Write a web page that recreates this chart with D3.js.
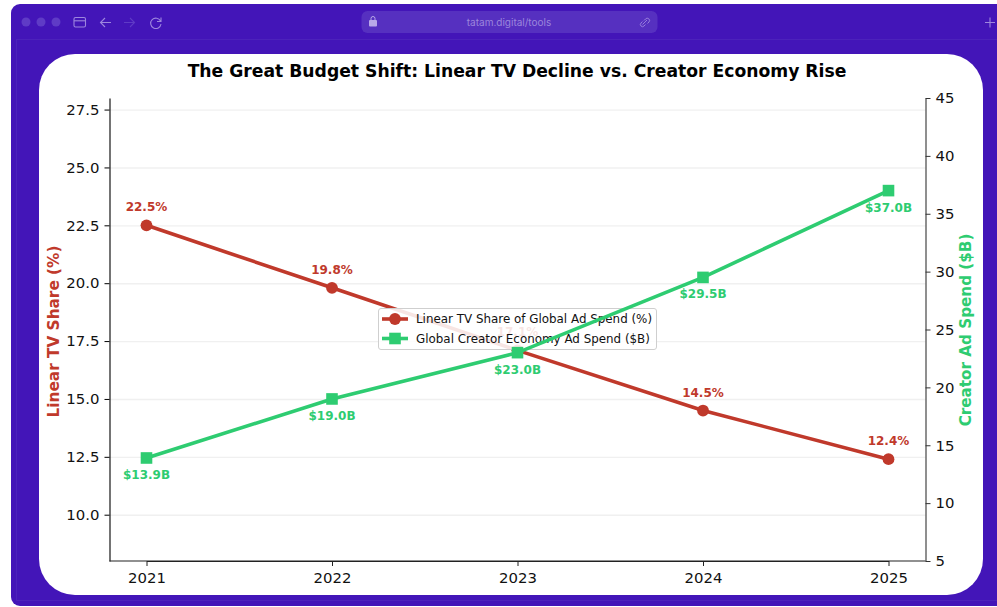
<!DOCTYPE html>
<html>
<head>
<meta charset="utf-8">
<script src="https://cdnjs.cloudflare.com/ajax/libs/d3/7.8.5/d3.min.js"></script>
<style>
  html, body { margin: 0; padding: 0; background: #fff; }
  svg { display: block; }
  text { font-family: "DejaVu Sans", sans-serif; }
</style>
</head>
<body>
<svg id="page" width="997" height="607"></svg>
<script>
const years = [2021, 2022, 2023, 2024, 2025];
const tvShare = [22.5, 19.8, 17.1, 14.5, 12.4];
const creatorSpend = [13.9, 19.0, 23.0, 29.5, 37.0];
const leftTicks = [10.0, 12.5, 15.0, 17.5, 20.0, 22.5, 25.0, 27.5];
const rightTicks = [5, 10, 15, 20, 25, 30, 35, 40, 45];
const seriesNames = ["Linear TV Share of Global Ad Spend (%)", "Global Creator Economy Ad Spend ($B)"];
const red = "#c0392b", green = "#2ecc71";

const svg = d3.select("#page");

// Browser window frame
const purple = "#4315b8";
svg.append("rect").attr("x", 11).attr("y", 4).attr("width", 1000).attr("height", 602).attr("rx", 9).attr("fill", purple);
svg.append("rect").attr("x", 16.5).attr("y", 39.5).attr("width", 1000).attr("height", 561).attr("fill", "none").attr("stroke", "#4c22bb").attr("stroke-width", 1);

// Toolbar
const chrome = svg.append("g");
[26, 41, 56].forEach(cx => chrome.append("circle").attr("cx", cx).attr("cy", 22).attr("r", 4.5).attr("fill", "#5f3bc6"));
const iconStroke = "#9d86de";
chrome.append("rect").attr("x", 74).attr("y", 17.5).attr("width", 11.5).attr("height", 9.5).attr("rx", 1.5).attr("fill", "none").attr("stroke", iconStroke).attr("stroke-width", 1.1);
chrome.append("path").attr("d", "M74 20.8H85.5").attr("stroke", iconStroke).attr("stroke-width", 1.1);
chrome.append("path").attr("d", "M111 22.5H101M105 18L100.5 22.5L105 27").attr("fill", "none").attr("stroke", iconStroke).attr("stroke-width", 1.1);
chrome.append("path").attr("d", "M124 22.5H134M130 18L134.5 22.5L130 27").attr("fill", "none").attr("stroke", "#5f3bc6").attr("stroke-width", 1.1);
chrome.append("path").attr("d", "M160.5 21A5.2 5.2 0 1 0 161 24M161 17.5V21.5H157").attr("fill", "none").attr("stroke", iconStroke).attr("stroke-width", 1.1);
chrome.append("rect").attr("x", 361.5).attr("y", 11).attr("width", 296).attr("height", 22).attr("rx", 6).attr("fill", "#5630c0");
chrome.append("rect").attr("x", 369).attr("y", 20).attr("width", 8).attr("height", 6.5).attr("rx", 1).attr("fill", "#b9a8e8");
chrome.append("path").attr("d", "M371 20V18.5A2 2 0 0 1 375 18.5V20").attr("fill", "none").attr("stroke", "#b9a8e8").attr("stroke-width", 1);
chrome.append("text").attr("x", 509).attr("y", 26).attr("text-anchor", "middle").attr("fill", "#9c86dc").style("font-family", "Inter, sans-serif").style("font-size", "10px").text("tatam.digital/tools");
chrome.append("path").attr("d", "M642.5 24.5L647 20M644 20.5L645.5 19A2 2 0 0 1 649 22L647.5 23.5M645.5 24.5L644 26A2 2 0 0 1 641 23L642.5 21.5").attr("fill", "none").attr("stroke", iconStroke).attr("stroke-width", 0.9);
chrome.append("path").attr("d", "M985 22.5H995M990 17.5V27.5").attr("stroke", iconStroke).attr("stroke-width", 1.1);

// White content card
svg.append("rect").attr("x", 39).attr("y", 54).attr("width", 944).attr("height", 541).attr("rx", 36).attr("fill", "#fff");

// Plot area
const plot = { left: 109.5, right: 925.5, top: 98, bottom: 561 };

const x = d3.scalePoint().domain(years).range([146.5, 888.5]);
const yLeft = d3.scaleLinear().domain([8, 28]).range([plot.bottom, plot.top]);
const yRight = d3.scaleLinear().domain([5, 45]).range([plot.bottom, plot.top]);

// Horizontal grid from the left axis
svg.append("g").selectAll("line").data(leftTicks).join("line")
  .attr("x1", plot.left).attr("x2", plot.right)
  .attr("y1", d => yLeft(d) + 0.5).attr("y2", d => yLeft(d) + 0.5)
  .attr("stroke", "#f0f0f0").attr("stroke-width", 1.4);

// Axes
function styleAxis(g, color) {
  g.selectAll("text").attr("fill", "#111").style("font-size", "14.9px").style("font-family", '"DejaVu Sans", sans-serif');
  g.selectAll("line").attr("stroke", color).attr("stroke-width", 1);
  g.select(".domain").attr("stroke", color).attr("stroke-width", 1.1);
}
svg.append("g").attr("transform", `translate(${plot.left},0)`)
  .call(d3.axisLeft(yLeft).tickValues(leftTicks).tickFormat(d3.format(".1f")).tickSize(5).tickPadding(5).tickSizeOuter(0))
  .call(styleAxis, "#000");
svg.append("g").attr("transform", `translate(${plot.right},0)`)
  .call(d3.axisRight(yRight).tickValues(rightTicks).tickFormat(d3.format("d")).tickSize(5).tickPadding(5).tickSizeOuter(0))
  .call(styleAxis, "#333");
svg.append("g").attr("transform", `translate(0,${plot.bottom})`)
  .call(d3.axisBottom(x).tickFormat(d3.format("d")).tickSize(5).tickPadding(6).tickSizeOuter(0))
  .call(styleAxis, "#222");
svg.append("line").attr("x1", plot.left).attr("x2", plot.right).attr("y1", plot.bottom).attr("y2", plot.bottom).attr("stroke", "#222").attr("stroke-width", 1.1);

// Title and axis titles
svg.append("text").attr("x", 517).attr("y", 77).attr("text-anchor", "middle")
  .attr("font-weight", "bold").attr("fill", "#000").style("font-size", "17.2px")
  .text("The Great Budget Shift: Linear TV Decline vs. Creator Economy Rise");
svg.append("text").attr("transform", "translate(59,331.5) rotate(-90)").attr("text-anchor", "middle")
  .attr("font-weight", "bold").attr("fill", red).style("font-size", "15.3px").text("Linear TV Share (%)");
svg.append("text").attr("transform", "translate(970.5,330) rotate(-90)").attr("text-anchor", "middle")
  .attr("font-weight", "bold").attr("fill", green).style("font-size", "15.2px").text("Creator Ad Spend ($B)");

// Linear TV series sits below the legend
const tvLine = d3.line().x((d, i) => x(years[i])).y(d => yLeft(d));
svg.append("path").datum(tvShare).attr("d", tvLine).attr("fill", "none").attr("stroke", red).attr("stroke-width", 3.6);
svg.append("g").selectAll("circle").data(tvShare).join("circle")
  .attr("cx", (d, i) => x(years[i])).attr("cy", d => yLeft(d)).attr("r", 5.9).attr("fill", red);
svg.append("g").selectAll("text").data(tvShare).join("text")
  .attr("x", (d, i) => x(years[i])).attr("y", d => yLeft(d) - 14)
  .attr("text-anchor", "middle").attr("font-weight", "bold").attr("fill", red).style("font-size", "12px")
  .text(d => d.toFixed(1) + "%");

// Legend belongs to the left axes, so the right-axis series draws over it
const legend = svg.append("g");
legend.append("rect").attr("x", 378.5).attr("y", 308.5).attr("width", 278).attr("height", 41).attr("rx", 2.5)
  .attr("fill", "#fff").attr("fill-opacity", 0.87).attr("stroke", "#cfcfcf").attr("stroke-width", 1);
seriesNames.forEach((name, i) => {
  const ly = 319 + i * 19.5;
  legend.append("line").attr("x1", 382).attr("x2", 408).attr("y1", ly).attr("y2", ly)
    .attr("stroke", i ? green : red).attr("stroke-width", 3.6);
  if (i) legend.append("rect").attr("x", 389.2).attr("y", ly - 5.8).attr("width", 11.6).attr("height", 11.6).attr("fill", green);
  else legend.append("circle").attr("cx", 395).attr("cy", ly).attr("r", 5.9).attr("fill", red);
  legend.append("text").attr("x", 416).attr("y", ly + 4.3).attr("fill", "#111").style("font-size", "11.9px").text(name);
});

// Creator economy series
const creatorLine = d3.line().x((d, i) => x(years[i])).y(d => yRight(d));
svg.append("path").datum(creatorSpend).attr("d", creatorLine).attr("fill", "none").attr("stroke", green).attr("stroke-width", 3.6);
svg.append("g").selectAll("rect").data(creatorSpend).join("rect")
  .attr("x", (d, i) => x(years[i]) - 5.8).attr("y", d => yRight(d) - 5.8)
  .attr("width", 11.6).attr("height", 11.6).attr("fill", green);
svg.append("g").selectAll("text").data(creatorSpend).join("text")
  .attr("x", (d, i) => x(years[i])).attr("y", d => yRight(d) + 21)
  .attr("text-anchor", "middle").attr("font-weight", "bold").attr("fill", green).style("font-size", "12px")
  .text(d => "$" + d.toFixed(1) + "B");
</script>
</body>
</html>
